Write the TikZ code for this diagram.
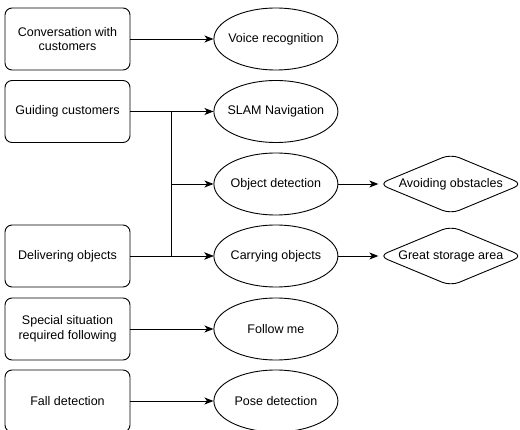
\documentclass[tikz,border=0pt]{standalone}
\usepackage{fontspec}
\setmainfont{Liberation Sans}
\usetikzlibrary{arrows.meta,positioning,shapes.geometric}

\begin{document}
\begin{tikzpicture}[
        x=1pt, y=-1pt,
        node distance=83pt and 83pt,
        font=\fontsize{12.5}{14.5}\selectfont,
        task/.style={draw, rounded corners=7pt, align=center, line width=0.9pt,
            minimum width=125pt, minimum height=62pt, inner sep=0pt},
        tech/.style={draw, ellipse, align=center, line width=0.9pt,
            minimum width=124pt, minimum height=62pt, inner xsep=-8pt, inner ysep=0pt},
        goal/.style={draw, diamond, rounded corners=9pt, align=center, line width=0.9pt,
            aspect=2.4, minimum width=144pt, minimum height=60pt, inner sep=0pt},
        arr/.style={-{Stealth[length=9pt, width=7pt, inset=2.5pt]}, line width=0.9pt}
    ]
        \useasboundingbox (0,0) rectangle (520,430);
        % tasks on the left
        \node[task] (conv) at (67.5,39) {Conversation with\\customers};
        \node[task] (guide) at (67.5,111.5) {Guiding customers};
        \node[task] (deliver) at (67.5,256) {Delivering objects};
        \node[task] (special) at (67.5,329) {Special situation\\required following};
        \node[task] (fall) at (67.5,401) {Fall detection};
        % techniques
        \node[tech, right=of conv] (voice) {Voice recognition};
        \node[tech, right=of guide] (slam) {SLAM Navigation};
        \node[tech, right=of deliver] (carry) {Carrying objects};
        \node[tech] (objdet) at (carry |- 0,184) {Object detection};
        \node[tech, right=of special] (follow) {Follow me};
        \node[tech, right=of fall] (pose) {Pose detection};
        % results
        \node[goal, right=40pt of objdet] (avoid) {Avoiding obstacles};
        \node[goal, right=40pt of carry] (store) {Great storage area};
        \coordinate[right=41pt of guide.east] (split);
        \draw[arr] (conv) -- (voice);
        \draw[arr] (guide) -- (slam);
        \draw[arr] (split) |- (objdet);
        \draw[arr] (split) |- (carry);
        \draw[arr] (deliver) -- (carry);
        \draw[arr] (special) -- (follow);
        \draw[arr] (fall) -- (pose);
        \draw[arr] (objdet) -- (avoid);
        \draw[arr] (carry) -- (store);
    \end{tikzpicture}
\end{document}
